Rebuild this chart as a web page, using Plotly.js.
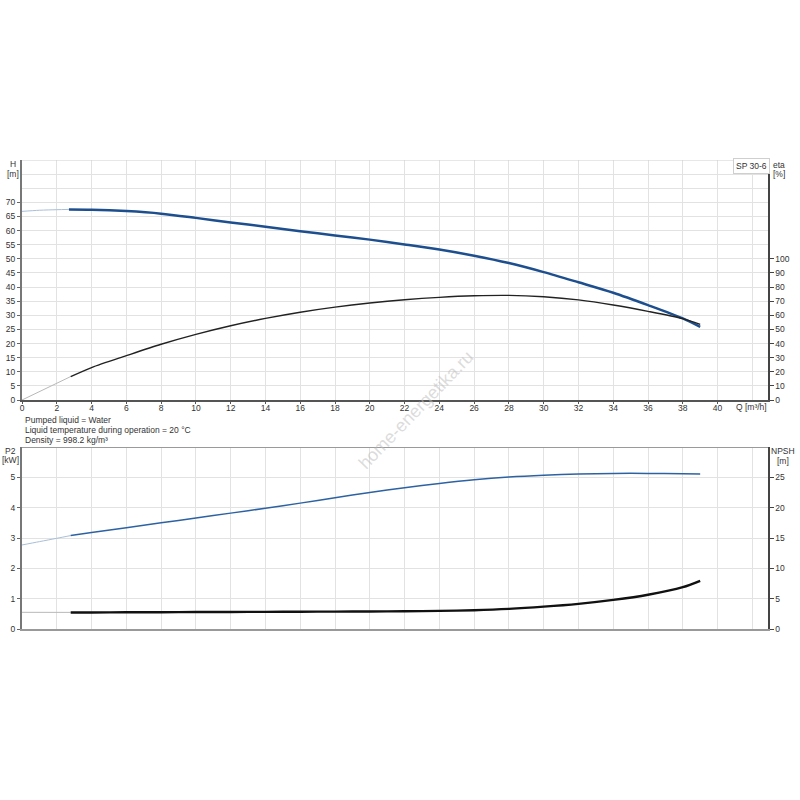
<!DOCTYPE html>
<html>
<head>
<meta charset="utf-8">
<script src="https://cdn.plot.ly/plotly-3.0.1.min.js"></script>
<style>html,body{margin:0;padding:0;background:#fff;}#chart{width:800px;height:800px;}</style>
</head>
<body>
<div id="chart"></div>
<script>
// ---- Data ----
const qThinH = [0, 1, 2, 2.7];
const hThin = [66.8, 67.2, 67.4, 67.5];
const qH = [2.7, 4, 6, 8, 10, 12, 14, 16, 18, 20, 22, 24, 26, 28, 30, 32, 34, 36, 38, 39];
const hMain = [67.5, 67.4, 66.9, 66.0, 64.5, 62.9, 61.4, 59.8, 58.3, 56.8, 55.1, 53.3, 51.1, 48.5, 45.3, 41.7, 38.0, 33.6, 28.9, 25.9];

const qThinEta = [0, 2.8];
const etaThin = [0, 16.6];
const qMain = [2.8, 4, 6, 8, 10, 12, 14, 16, 18, 20, 22, 24, 26, 28, 30, 32, 34, 36, 38, 39];
const etaMain = [16.6, 23.0, 31.4, 39.5, 46.5, 52.6, 57.8, 62.2, 65.8, 68.7, 71.0, 72.7, 73.8, 74.1, 73.1, 70.9, 67.3, 62.8, 57.6, 53.6];

const qThinP2 = [0, 1, 2, 2.8];
const p2Thin = [2.77, 2.88, 2.99, 3.08];
const p2Main = [3.08, 3.18, 3.34, 3.50, 3.66, 3.82, 3.98, 4.15, 4.33, 4.50, 4.66, 4.80, 4.92, 5.01, 5.07, 5.11, 5.13, 5.13, 5.12, 5.11];

const qThinNpsh = [0, 2.8];
const npshThin = [2.75, 2.74];
const npshMain = [2.72, 2.73, 2.75, 2.77, 2.79, 2.81, 2.83, 2.85, 2.87, 2.89, 2.92, 2.98, 3.10, 3.32, 3.68, 4.15, 4.80, 5.65, 6.90, 7.95];

const xTicks = [0, 2, 4, 6, 8, 10, 12, 14, 16, 18, 20, 22, 24, 26, 28, 30, 32, 34, 36, 38, 40];
const hTicks = [0, 5, 10, 15, 20, 25, 30, 35, 40, 45, 50, 55, 60, 65, 70];
const etaTicks = [0, 10, 20, 30, 40, 50, 60, 70, 80, 90, 100];
const p2Ticks = [0, 1, 2, 3, 4, 5];
const npshTicks = [0, 5, 10, 15, 20, 25];

const infoLines = ["Pumped liquid = Water", "Liquid temperature during operation = 20 °C", "Density = 998.2 kg/m³"];

// ---- Layout helpers ----
const L = 22, R = 768, T = 160, B = 629;
const px = v => (v - L) / (R - L);
const py = v => (B - v) / (B - T);
const FONT = "Liberation Sans, Arial, sans-serif";
const tickFont = {family: FONT, size: 8.5, color: "#333"};
const GRID = "#e2e2e2";

const traces = [
  {x: qThinH, y: hThin, xaxis: "x", yaxis: "y", mode: "lines", line: {color: "#a9bed8", width: 1, shape: "spline", smoothing: 0.8}, hoverinfo: "skip"},
  {x: qH, y: hMain, xaxis: "x", yaxis: "y", mode: "lines", line: {color: "#1d4f8f", width: 2.5, shape: "spline", smoothing: 0.8}},
  {x: qThinEta, y: etaThin, xaxis: "x", yaxis: "y2", mode: "lines", line: {color: "#b8b8b8", width: 1}, hoverinfo: "skip"},
  {x: qMain, y: etaMain, xaxis: "x", yaxis: "y2", mode: "lines", line: {color: "#222", width: 1.4, shape: "spline", smoothing: 0.8}},
  {x: qThinP2, y: p2Thin, xaxis: "x2", yaxis: "y3", mode: "lines", line: {color: "#a9bed8", width: 1, shape: "spline", smoothing: 0.8}, hoverinfo: "skip"},
  {x: qMain, y: p2Main, xaxis: "x2", yaxis: "y3", mode: "lines", line: {color: "#2d62a2", width: 1.5, shape: "spline", smoothing: 0.8}},
  {x: qThinNpsh, y: npshThin, xaxis: "x2", yaxis: "y4", mode: "lines", line: {color: "#b8b8b8", width: 1}, hoverinfo: "skip"},
  {x: qMain, y: npshMain, xaxis: "x2", yaxis: "y4", mode: "lines", line: {color: "#111", width: 2.4, shape: "spline", smoothing: 0.8}}
];

const topDom = [py(400), 1];
const botDom = [0, py(447)];
const XR = [0, 42.9];

function ann(text, x, y, opts) {
  return Object.assign({text: text, x: px(x), y: py(y), xref: "paper", yref: "paper", showarrow: false,
    xanchor: "center", yanchor: "middle", font: {family: FONT, size: 8.5, color: "#333"}}, opts || {});
}

const annotations = [
  ann("H", 13, 164), ann("[m]", 13, 174),
  ann("eta", 779, 165), ann("[%]", 779, 174),
  ann("P2", 10, 451), ann("[kW]", 10, 460),
  ann("NPSH", 783, 451), ann("[m]", 783, 461),
  ann("Q [m³/h]", 751, 407),
  ann("SP 30-6", 751, 166.5, {bordercolor: "#cfcfcf", borderwidth: 1, borderpad: 2, bgcolor: "#fff"}),
  ann(infoLines[0], 23, 420, {xanchor: "left"}),
  ann(infoLines[1], 23, 430, {xanchor: "left"}),
  ann(infoLines[2], 23, 440, {xanchor: "left"}),
  ann("home-energetika.ru", 416, 410, {textangle: -46, font: {family: FONT, size: 18, color: "rgba(190,190,190,0.55)"}})
];

const shapes = [
  {type: "line", xref: "x", yref: "y", x0: XR[0], x1: XR[1], y0: 85, y1: 85, line: {color: "#cfcfcf", width: 1}},
  {type: "line", xref: "x2", yref: "y3", x0: XR[0], x1: XR[1], y0: 6, y1: 6, line: {color: "#9a9a9a", width: 2}}
];

const layout = {
  width: 800, height: 800,
  margin: {l: L, r: 800 - R, t: T, b: 800 - B, pad: 0},
  paper_bgcolor: "#fff", plot_bgcolor: "#fff",
  showlegend: false,
  font: {family: FONT, size: 8.5, color: "#333"},
  xaxis: {domain: [0, 1], anchor: "y", range: XR, tickvals: xTicks, ticks: "outside", ticklen: 2, tickcolor: "#555",
    ticklabelstandoff: -3,
    showgrid: true, gridcolor: GRID, minor: {tickvals: [42], showgrid: true, gridcolor: GRID, ticks: ""},
    showline: true, linecolor: "#555", linewidth: 1.5, zeroline: false, tickfont: tickFont, fixedrange: true},
  yaxis: {domain: topDom, anchor: "x", range: [0, 85], tickvals: hTicks, ticks: "outside", ticklen: 3, tickcolor: "#666",
    showgrid: true, gridcolor: GRID, minor: {tickvals: [75, 80], showgrid: true, gridcolor: GRID, ticks: ""},
    showline: true, linecolor: "#777", linewidth: 2, zeroline: false, tickfont: tickFont, fixedrange: true},
  yaxis2: {overlaying: "y", side: "right", anchor: "x", range: [0, 170], tickvals: etaTicks, ticks: "outside", ticklen: 4, tickcolor: "#444",
    showgrid: false, showline: true, linecolor: "#444", linewidth: 1.5, zeroline: false, tickfont: tickFont, fixedrange: true},
  xaxis2: {domain: [0, 1], anchor: "y3", range: XR, tickvals: xTicks, showticklabels: false, ticks: "",
    showgrid: true, gridcolor: GRID, minor: {tickvals: [42], showgrid: true, gridcolor: GRID, ticks: ""},
    showline: true, linecolor: "#999", linewidth: 1.5, zeroline: false, fixedrange: true},
  yaxis3: {domain: botDom, anchor: "x2", range: [0, 6], tickvals: p2Ticks, ticks: "outside", ticklen: 3, tickcolor: "#666",
    showgrid: true, gridcolor: GRID, showline: true, linecolor: "#777", linewidth: 2, zeroline: false, tickfont: tickFont, fixedrange: true},
  yaxis4: {overlaying: "y3", side: "right", anchor: "x2", range: [0, 30], tickvals: npshTicks, ticks: "outside", ticklen: 4, tickcolor: "#444",
    showgrid: false, showline: true, linecolor: "#444", linewidth: 1.5, zeroline: false, tickfont: tickFont, fixedrange: true},
  annotations: annotations,
  shapes: shapes
};

Plotly.newPlot("chart", traces, layout, {displayModeBar: false, staticPlot: true});
</script>
</body>
</html>
